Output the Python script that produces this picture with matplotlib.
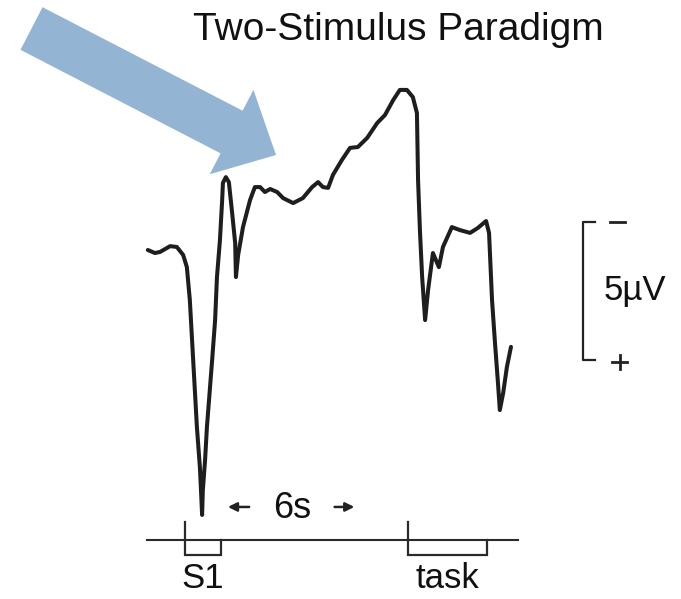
import matplotlib
matplotlib.use("Agg")
import matplotlib.pyplot as plt
import matplotlib.patches as mpatches
from matplotlib.transforms import Affine2D

plt.rcParams['font.family'] = ['Liberation Sans', 'DejaVu Sans']

# ---- data: ERP waveform (time in s relative to S1, amplitude in uV, negative up) ----
time_s = [-1.00, -0.81, -0.67, -0.40, -0.22, -0.05, 0.05, 0.13, 0.22, 0.32, 0.40, 0.43, 0.46,
          0.48, 0.54, 0.59, 0.73, 0.81, 0.86, 0.94, 1.00, 1.02, 1.10, 1.18, 1.26, 1.35, 1.37,
          1.43, 1.56, 1.75, 1.88, 2.02, 2.15, 2.29, 2.48, 2.64, 2.91, 3.17, 3.42, 3.58, 3.71,
          3.85, 3.98, 4.22, 4.44, 4.65, 4.90, 5.17, 5.38, 5.60, 5.78, 5.97, 6.13, 6.24, 6.27,
          6.32, 6.38, 6.46, 6.54, 6.67, 6.83, 6.94, 7.18, 7.40, 7.67, 7.88, 8.10, 8.18, 8.26,
          8.34, 8.42, 8.47, 8.56, 8.66, 8.77]
amplitude_uv = [0.00, 0.11, 0.07, -0.14, -0.11, 0.18, 0.62, 1.81, 3.99, 6.41, 7.86, 8.70, 9.60,
                8.70, 7.61, 6.41, 3.99, 2.54, 0.98, -0.36, -1.81, -2.43, -2.64, -2.46, -1.45, -0.25, 0.98,
                0.18, -0.83, -1.81, -2.28, -2.28, -2.10, -2.21, -2.10, -1.88, -1.70, -1.88, -2.28, -2.46, -2.28,
                -2.25, -2.72, -3.26, -3.70, -3.73, -4.06, -4.60, -4.89, -5.43, -5.80, -5.80, -5.54, -4.96, -2.54,
                -0.72, 0.98, 2.54, 1.45, 0.11, 0.62, -0.11, -0.83, -0.72, -0.62, -0.80, -1.05, -0.62, 1.81,
                3.37, 4.82, 5.80, 5.18, 4.24, 3.51]

# ---- events on the time line ----
event_labels = ["S1", "task"]
event_onsets = [0.0, 6.0]
event_durations = [0.97, 2.12]
interval_label = "6s"
scale_uv = 5
title = "Two-Stimulus Paradigm"

# ---- figure ----
W, H, DPI = 681, 599, 100
fig = plt.figure(figsize=(W / DPI, H / DPI), dpi=DPI)
fig.patch.set_facecolor('white')
ax = fig.add_axes([0, 0, 1, 1])
px_per_s = 37.17
px_per_uv = 27.6
x0_px, y0_px = 185, 250
ax.set_xlim(-x0_px / px_per_s, (W - x0_px) / px_per_s)
ax.set_ylim((H - y0_px) / px_per_uv, -y0_px / px_per_uv)   # negative up
ax.axis('off')

ink = '#1e1e1e'
ax.plot(time_s, amplitude_uv, color=ink, lw=2.9, solid_joinstyle='round', solid_capstyle='round')

# time line
base_v = 10.51
tick_top = 9.86
pulse_bot = 11.05
ax.plot([-1.02, 8.96], [base_v, base_v], color='#2a2a2a', lw=1.5)
for lab, on, dur in zip(event_labels, event_onsets, event_durations):
    ax.plot([on, on, on + dur, on + dur], [tick_top, pulse_bot, pulse_bot, base_v],
            color='#2a2a2a', lw=1.6, solid_joinstyle='miter')
    ax.text(on + dur / 2, 12.26, lab, ha='center', va='baseline', fontsize=25, color='#111111')

# interval marker
ax.text(2.88, 9.71, interval_label, ha='center', va='baseline', fontsize=26, color='#111111')
ax.annotate('', xy=(1.08, 9.31), xytext=(1.80, 9.31),
            arrowprops=dict(arrowstyle='-|>', color='#222222', lw=1.8, mutation_scale=13))
ax.annotate('', xy=(4.63, 9.31), xytext=(3.95, 9.31),
            arrowprops=dict(arrowstyle='-|>', color='#222222', lw=1.8, mutation_scale=13))

# scale bar
sb_t = 10.71
sb_top, sb_bot = -1.0, -1.0 + scale_uv
ax.plot([11.03, sb_t, sb_t, 11.03], [sb_top, sb_top, sb_bot, sb_bot], color='#222222', lw=1.6)
ax.plot([11.43, 11.84], [sb_top, sb_top], color='#222222', lw=2.0)
ax.plot([11.49, 11.89], [sb_bot + 0.06, sb_bot + 0.06], color='#222222', lw=2.0)
ax.plot([11.69, 11.69], [sb_bot - 0.20, sb_bot + 0.32], color='#222222', lw=2.0)
ax.text(12.09, 1.81, f'{scale_uv}µV', ha='center', va='baseline', fontsize=25, color='#111111')

# title
ax.text((398 - x0_px) / px_per_s, (40 - y0_px) / px_per_uv, title, ha='center', va='baseline',
        fontsize=28, color='#111111')

# blue pointer arrow (in pixel space, top-left origin)
pix = Affine2D().scale(1 / DPI, -1 / DPI).translate(0, H / DPI) + fig.dpi_scale_trans
arrow = mpatches.FancyArrow(31.5, 28.5, 244.5, 126.5, width=48, head_width=95, head_length=50,
                            length_includes_head=True, color='#93B4D3', lw=0, transform=pix, zorder=5)
fig.add_artist(arrow)

fig.savefig('out.png', dpi=DPI, facecolor='white')
